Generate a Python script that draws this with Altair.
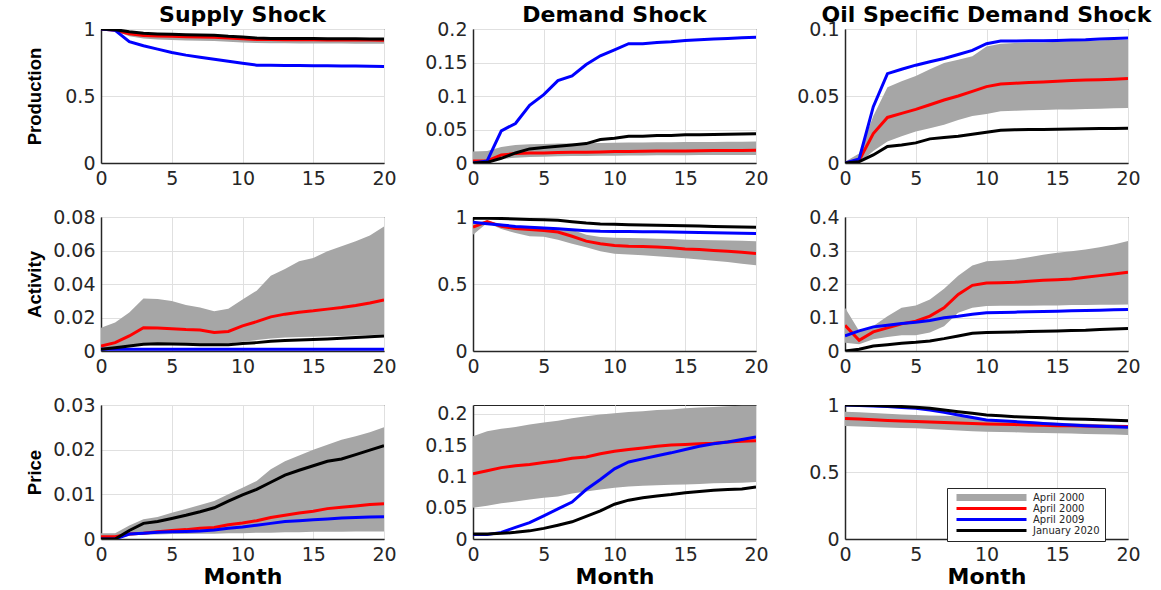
import altair as alt
import pandas as pd

months = list(range(21))
x_ticks = [0, 5, 10, 15, 20]

series_keys = ["band", "April 2000", "April 2009", "January 2020"]
legend_labels = ["April 2000", "April 2000", "April 2009", "January 2020"]
series_colors = ["#a6a6a6", "#ff0000", "#0000ff", "#000000"]

shock_titles = ["Supply Shock", "Demand Shock", "Oil Specific Demand Shock"]
row_titles = ["Production", "Activity", "Price"]

# ---- Production / Supply shock
ps_lo = [0.995, 0.985, 0.945, 0.93, 0.922, 0.918, 0.915, 0.912, 0.91, 0.905, 0.9, 0.895, 0.894, 0.893, 0.892, 0.892, 0.891, 0.891, 0.89, 0.89, 0.889]
ps_hi = [1.0, 0.998, 0.98, 0.968, 0.962, 0.96, 0.958, 0.955, 0.952, 0.945, 0.94, 0.935, 0.934, 0.933, 0.933, 0.932, 0.932, 0.931, 0.931, 0.93, 0.93]
ps_red = [1.0, 0.99, 0.965, 0.952, 0.948, 0.945, 0.942, 0.94, 0.938, 0.932, 0.927, 0.922, 0.921, 0.92, 0.92, 0.919, 0.918, 0.918, 0.917, 0.917, 0.916]
ps_blue = [1.0, 0.99, 0.905, 0.875, 0.85, 0.825, 0.805, 0.79, 0.775, 0.76, 0.745, 0.73, 0.73, 0.728, 0.727, 0.726, 0.725, 0.724, 0.723, 0.722, 0.72]
ps_black = [1.0, 0.995, 0.98, 0.968, 0.963, 0.96, 0.958, 0.955, 0.953, 0.945, 0.94, 0.932, 0.93, 0.93, 0.929, 0.929, 0.928, 0.928, 0.927, 0.926, 0.925]

# ---- Production / Demand shock
pd_lo = [0.0, 0.002, 0.006, 0.008, 0.009, 0.0095, 0.01, 0.0103, 0.0105, 0.011, 0.011, 0.0112, 0.0113, 0.0115, 0.0115, 0.0117, 0.0118, 0.0118, 0.0119, 0.012, 0.012]
pd_hi = [0.017, 0.018, 0.024, 0.027, 0.028, 0.0285, 0.029, 0.0292, 0.0295, 0.03, 0.0302, 0.0305, 0.0307, 0.031, 0.031, 0.0312, 0.0314, 0.0315, 0.0317, 0.0318, 0.032]
pd_red = [0.003, 0.003, 0.012, 0.014, 0.015, 0.015, 0.0155, 0.016, 0.016, 0.0165, 0.017, 0.0172, 0.0175, 0.0178, 0.018, 0.018, 0.0183, 0.0185, 0.0187, 0.0188, 0.019]
pd_blue = [0.0, 0.003, 0.048, 0.059, 0.086, 0.102, 0.123, 0.130, 0.147, 0.160, 0.169, 0.178, 0.178, 0.180, 0.181, 0.183, 0.184, 0.185, 0.186, 0.187, 0.1876]
pd_black = [0.0, 0.001, 0.007, 0.015, 0.021, 0.023, 0.025, 0.027, 0.029, 0.035, 0.037, 0.040, 0.040, 0.041, 0.041, 0.042, 0.042, 0.0425, 0.043, 0.0432, 0.0435]

# ---- Production / Oil specific demand shock
po_lo = [0.0, 0.0, 0.009, 0.016, 0.020, 0.0236, 0.026, 0.0286, 0.032, 0.035, 0.0366, 0.0386, 0.039, 0.0393, 0.0395, 0.040, 0.040, 0.0403, 0.0405, 0.0408, 0.041]
po_hi = [0.001, 0.007, 0.035, 0.0565, 0.061, 0.065, 0.070, 0.0746, 0.077, 0.0796, 0.087, 0.089, 0.0895, 0.090, 0.090, 0.0905, 0.091, 0.091, 0.0915, 0.092, 0.092]
po_red = [0.0, 0.002, 0.022, 0.034, 0.037, 0.040, 0.0435, 0.047, 0.050, 0.0535, 0.057, 0.059, 0.0595, 0.060, 0.0605, 0.061, 0.0615, 0.062, 0.0622, 0.0625, 0.063]
po_blue = [0.0, 0.003, 0.042, 0.0667, 0.070, 0.073, 0.0755, 0.078, 0.081, 0.084, 0.089, 0.091, 0.091, 0.0912, 0.0913, 0.0915, 0.0918, 0.092, 0.0925, 0.093, 0.0933]
po_black = [0.0, 0.001, 0.006, 0.0124, 0.0135, 0.015, 0.018, 0.019, 0.020, 0.0215, 0.023, 0.0245, 0.0248, 0.025, 0.025, 0.0252, 0.0254, 0.0255, 0.0257, 0.0258, 0.026]

# ---- Activity / Supply shock
as_lo = [0.0, 0.001, 0.003, 0.0045, 0.0047, 0.0046, 0.0044, 0.0042, 0.004, 0.0045, 0.0055, 0.0065, 0.0075, 0.008, 0.0083, 0.0085, 0.0088, 0.009, 0.0093, 0.0096, 0.0099]
as_hi = [0.0139, 0.017, 0.023, 0.0314, 0.031, 0.0298, 0.0275, 0.026, 0.0238, 0.0252, 0.0308, 0.036, 0.045, 0.049, 0.0536, 0.0555, 0.0596, 0.0625, 0.0655, 0.069, 0.0744]
as_red = [0.003, 0.005, 0.009, 0.0139, 0.0138, 0.0133, 0.0128, 0.0125, 0.011, 0.0117, 0.015, 0.0175, 0.0204, 0.022, 0.0232, 0.024, 0.025, 0.026, 0.0272, 0.0287, 0.0304]
as_blue = [0.001, 0.001, 0.001, 0.001, 0.001, 0.001, 0.001, 0.001, 0.001, 0.001, 0.001, 0.001, 0.001, 0.001, 0.001, 0.001, 0.001, 0.001, 0.001, 0.001, 0.001]
as_black = [0.001, 0.002, 0.003, 0.004, 0.0043, 0.0042, 0.004, 0.0038, 0.0037, 0.0038, 0.0045, 0.005, 0.0058, 0.0062, 0.0065, 0.0068, 0.0072, 0.0076, 0.008, 0.0085, 0.0089]

# ---- Activity / Demand shock
ad_lo = [0.868, 0.955, 0.91, 0.88, 0.856, 0.852, 0.83, 0.80, 0.774, 0.744, 0.725, 0.72, 0.715, 0.708, 0.7, 0.692, 0.683, 0.674, 0.664, 0.652, 0.64]
ad_hi = [0.955, 0.97, 0.95, 0.935, 0.93, 0.925, 0.918, 0.905, 0.868, 0.85, 0.845, 0.843, 0.841, 0.838, 0.835, 0.831, 0.829, 0.826, 0.824, 0.822, 0.819]
ad_red = [0.925, 0.965, 0.93, 0.915, 0.906, 0.90, 0.888, 0.856, 0.82, 0.80, 0.787, 0.782, 0.780, 0.776, 0.77, 0.762, 0.757, 0.75, 0.745, 0.737, 0.727]
ad_blue = [0.96, 0.95, 0.94, 0.93, 0.924, 0.918, 0.912, 0.905, 0.898, 0.893, 0.892, 0.891, 0.89, 0.889, 0.888, 0.886, 0.884, 0.882, 0.88, 0.878, 0.876]
ad_black = [0.99, 0.99, 0.988, 0.985, 0.982, 0.98, 0.975, 0.965, 0.955, 0.948, 0.945, 0.942, 0.94, 0.938, 0.937, 0.935, 0.933, 0.93, 0.928, 0.925, 0.923]

# ---- Activity / Oil specific demand shock
ao_lo = [0.025, 0.02, 0.035, 0.042, 0.047, 0.047, 0.055, 0.074, 0.114, 0.129, 0.134, 0.135, 0.135, 0.135, 0.136, 0.136, 0.137, 0.137, 0.138, 0.138, 0.139]
ao_hi = [0.129, 0.06, 0.075, 0.104, 0.129, 0.136, 0.154, 0.186, 0.225, 0.255, 0.268, 0.27, 0.273, 0.28, 0.287, 0.293, 0.298, 0.303, 0.31, 0.318, 0.328]
ao_red = [0.0764, 0.032, 0.057, 0.069, 0.081, 0.089, 0.104, 0.129, 0.169, 0.196, 0.203, 0.204, 0.205, 0.208, 0.211, 0.213, 0.215, 0.22, 0.225, 0.23, 0.235]
ao_blue = [0.045, 0.06, 0.072, 0.077, 0.082, 0.086, 0.091, 0.099, 0.104, 0.110, 0.114, 0.115, 0.116, 0.117, 0.118, 0.119, 0.12, 0.121, 0.122, 0.123, 0.124]
ao_black = [0.0, 0.005, 0.015, 0.019, 0.023, 0.026, 0.03, 0.037, 0.045, 0.053, 0.055, 0.056, 0.057, 0.058, 0.059, 0.06, 0.061, 0.062, 0.064, 0.066, 0.067]

# ---- Price / Supply shock
rs_lo = [0.0, 0.0, 0.0007, 0.001, 0.001, 0.0011, 0.0011, 0.0012, 0.0012, 0.0013, 0.0013, 0.0014, 0.0014, 0.0015, 0.0015, 0.0016, 0.0016, 0.0016, 0.0017, 0.0017, 0.0017]
rs_hi = [0.0013, 0.0013, 0.003, 0.0044, 0.0049, 0.0059, 0.0067, 0.0076, 0.0085, 0.01, 0.0115, 0.013, 0.0156, 0.0174, 0.0187, 0.02, 0.0211, 0.0222, 0.023, 0.0239, 0.025]
rs_red = [0.0005, 0.0005, 0.0011, 0.0013, 0.0016, 0.0019, 0.0021, 0.0024, 0.0026, 0.0032, 0.0036, 0.0041, 0.0048, 0.0053, 0.0058, 0.0062, 0.0068, 0.0071, 0.0074, 0.0077, 0.0079]
rs_blue = [0.0, 0.0, 0.0011, 0.0013, 0.0015, 0.0016, 0.0017, 0.0018, 0.002, 0.0024, 0.0027, 0.0031, 0.0035, 0.0039, 0.0041, 0.0043, 0.0045, 0.0047, 0.0048, 0.0049, 0.005]
rs_black = [0.0, 0.0, 0.0019, 0.0035, 0.0039, 0.0046, 0.0053, 0.0061, 0.007, 0.0085, 0.0099, 0.0111, 0.0127, 0.0143, 0.0154, 0.0164, 0.0174, 0.0179, 0.0189, 0.0199, 0.0209]

# ---- Price / Demand shock
rd_lo = [0.050, 0.053, 0.057, 0.060, 0.063, 0.066, 0.068, 0.0725, 0.076, 0.079, 0.082, 0.084, 0.085, 0.086, 0.0865, 0.087, 0.088, 0.089, 0.0895, 0.09, 0.091]
rd_hi = [0.164, 0.172, 0.176, 0.179, 0.183, 0.186, 0.189, 0.193, 0.196, 0.199, 0.201, 0.203, 0.204, 0.206, 0.207, 0.209, 0.21, 0.211, 0.212, 0.213, 0.213]
rd_red = [0.104, 0.109, 0.114, 0.117, 0.119, 0.122, 0.125, 0.129, 0.131, 0.136, 0.140, 0.143, 0.1455, 0.148, 0.150, 0.151, 0.152, 0.153, 0.155, 0.156, 0.157]
rd_blue = [0.007, 0.007, 0.0106, 0.0185, 0.026, 0.037, 0.048, 0.059, 0.079, 0.095, 0.112, 0.123, 0.128, 0.133, 0.1376, 0.143, 0.148, 0.152, 0.155, 0.159, 0.163]
rd_black = [0.008, 0.008, 0.009, 0.0106, 0.013, 0.017, 0.022, 0.0275, 0.036, 0.045, 0.0556, 0.062, 0.066, 0.0688, 0.071, 0.074, 0.0757, 0.0778, 0.079, 0.08, 0.083]

# ---- Price / Oil specific demand shock
ro_lo = [0.844, 0.84, 0.836, 0.833, 0.829, 0.826, 0.821, 0.815, 0.81, 0.805, 0.801, 0.798, 0.796, 0.793, 0.791, 0.789, 0.787, 0.784, 0.782, 0.779, 0.777]
ro_hi = [0.95, 0.945, 0.94, 0.935, 0.93, 0.926, 0.922, 0.919, 0.916, 0.905, 0.893, 0.888, 0.883, 0.878, 0.873, 0.868, 0.864, 0.861, 0.857, 0.854, 0.851]
ro_red = [0.90, 0.895, 0.89, 0.885, 0.88, 0.876, 0.873, 0.869, 0.866, 0.862, 0.859, 0.856, 0.854, 0.851, 0.848, 0.846, 0.845, 0.843, 0.842, 0.84, 0.839]
ro_blue = [1.0, 0.997, 0.993, 0.988, 0.982, 0.975, 0.962, 0.945, 0.926, 0.906, 0.888, 0.882, 0.876, 0.869, 0.862, 0.856, 0.851, 0.846, 0.842, 0.838, 0.834]
ro_black = [1.0, 0.998, 0.996, 0.993, 0.988, 0.983, 0.975, 0.963, 0.95, 0.938, 0.926, 0.92, 0.913, 0.909, 0.905, 0.9, 0.896, 0.893, 0.89, 0.886, 0.883]

# y axis domains and ticks per panel (row-major)
y_domains = [[0, 1], [0, 0.2], [0, 0.1],
             [0, 0.08], [0, 1], [0, 0.4],
             [0, 0.03], [0, 0.214], [0, 1]]
y_ticks = [[0, 0.5, 1], [0, 0.05, 0.1, 0.15, 0.2], [0, 0.05, 0.1],
           [0, 0.02, 0.04, 0.06, 0.08], [0, 0.5, 1], [0, 0.1, 0.2, 0.3, 0.4],
           [0, 0.01, 0.02, 0.03], [0, 0.05, 0.1, 0.15, 0.2], [0, 0.5, 1]]

panel_data = [
    (ps_lo, ps_hi, ps_red, ps_blue, ps_black),
    (pd_lo, pd_hi, pd_red, pd_blue, pd_black),
    (po_lo, po_hi, po_red, po_blue, po_black),
    (as_lo, as_hi, as_red, as_blue, as_black),
    (ad_lo, ad_hi, ad_red, ad_blue, ad_black),
    (ao_lo, ao_hi, ao_red, ao_blue, ao_black),
    (rs_lo, rs_hi, rs_red, rs_blue, rs_black),
    (rd_lo, rd_hi, rd_red, rd_blue, rd_black),
    (ro_lo, ro_hi, ro_red, ro_blue, ro_black),
]

W, H = 283, 134
TICK_FONT = "DejaVu Sans"
BOLD_FONT = "DejaVu Sans"
NARROW_FONT = "Liberation Sans, Arial, sans-serif"

label_expr = "".join(
    f"datum.label == '{k}' ? '{l}' : " for k, l in zip(series_keys, legend_labels)
) + "datum.label"

legend = alt.Legend(
    orient="none", legendX=846, legendY=459, title=None,
    symbolType="stroke", symbolSize=4900, clipHeight=9, rowPadding=0,
    columns=1, labelFont=TICK_FONT, labelFontSize=10, labelColor="#262626",
    labelExpr=label_expr, padding=5, strokeColor="#262626", fillColor="white",
    symbolOffset=3, labelOffset=5,
    symbolStrokeWidth={"expr": f"(datum.value == '{series_keys[0]}' ? 7 : 3)"},
)


def make_panel(idx):
    row, col = divmod(idx, 3)
    lo, hi, red, blue, black = panel_data[idx]
    band_df = pd.DataFrame({"month": months, "lo": lo, "hi": hi})
    line_df = pd.DataFrame({
        "month": months * 3,
        "value": red + blue + black,
        "series": [series_keys[1]] * len(months) + [series_keys[2]] * len(months) + [series_keys[3]] * len(months),
    })
    x_axis = alt.Axis(values=x_ticks, tickCount=20, labelFlush=False, format="d", labelOverlap=False)
    x_kwargs = dict(scale=alt.Scale(domain=[0, 20], nice=False), axis=x_axis)
    x_kwargs["title"] = "Month" if row == 2 else None

    if col == 0:
        y_axis = alt.Axis(values=y_ticks[idx], tickCount=20, format="~g", labelOverlap=False,
                          titleX=-67, titleY=H / 2,
                          titleAngle=270, titleBaseline="middle", titleFont=NARROW_FONT,
                          titleFontSize=18.5, titleFontWeight="bold", titleColor="black")
        y_title = row_titles[row]
    else:
        y_axis = alt.Axis(values=y_ticks[idx], tickCount=20, format="~g", labelOverlap=False)
        y_title = None
    y_scale = alt.Scale(domain=y_domains[idx], nice=False, zero=False)

    band = alt.Chart(band_df).mark_area(color=series_colors[0], clip=True).encode(
        x=alt.X("month:Q", **x_kwargs),
        y=alt.Y("lo:Q", scale=y_scale, axis=y_axis, title=y_title),
        y2="hi:Q",
    )
    lines = alt.Chart(line_df).mark_line(clip=True).encode(
        x=alt.X("month:Q"),
        y=alt.Y("value:Q"),
        color=alt.Color("series:N", scale=alt.Scale(domain=series_keys, range=series_colors), legend=legend),
        strokeWidth=alt.value(3),
        order=alt.Order("series:N"),
    )
    layer = alt.layer(band, lines).properties(width=W, height=H)
    if row == 0:
        layer = layer.properties(title=alt.Title(shock_titles[col], frame="group", dy=9))
    return layer


panels = [make_panel(i) for i in range(9)]

chart = alt.concat(
    *panels, columns=3, spacing={"row": 54, "column": 89}, bounds="flush"
).properties(
    padding={"left": 24, "top": 3, "right": 5, "bottom": 5}
).configure_view(
    stroke="#262626", strokeWidth=1
).configure_axis(
    grid=True, gridColor="#e0e0e0", gridWidth=1,
    domainColor="#262626", domainWidth=1.5, ticks=False,
    labelFont=TICK_FONT, labelFontSize=19, labelColor="#262626", labelPadding=6,
    labelOverlap=False,
    titleFont=BOLD_FONT, titleFontSize=22, titleFontWeight="bold", titleColor="black",
    titlePadding=2,
).configure_title(
    font=BOLD_FONT, fontSize=22, fontWeight="bold", anchor="middle", offset=2, color="black"
)

chart.save("out.html", embed_options={"renderer": "svg", "actions": False})
